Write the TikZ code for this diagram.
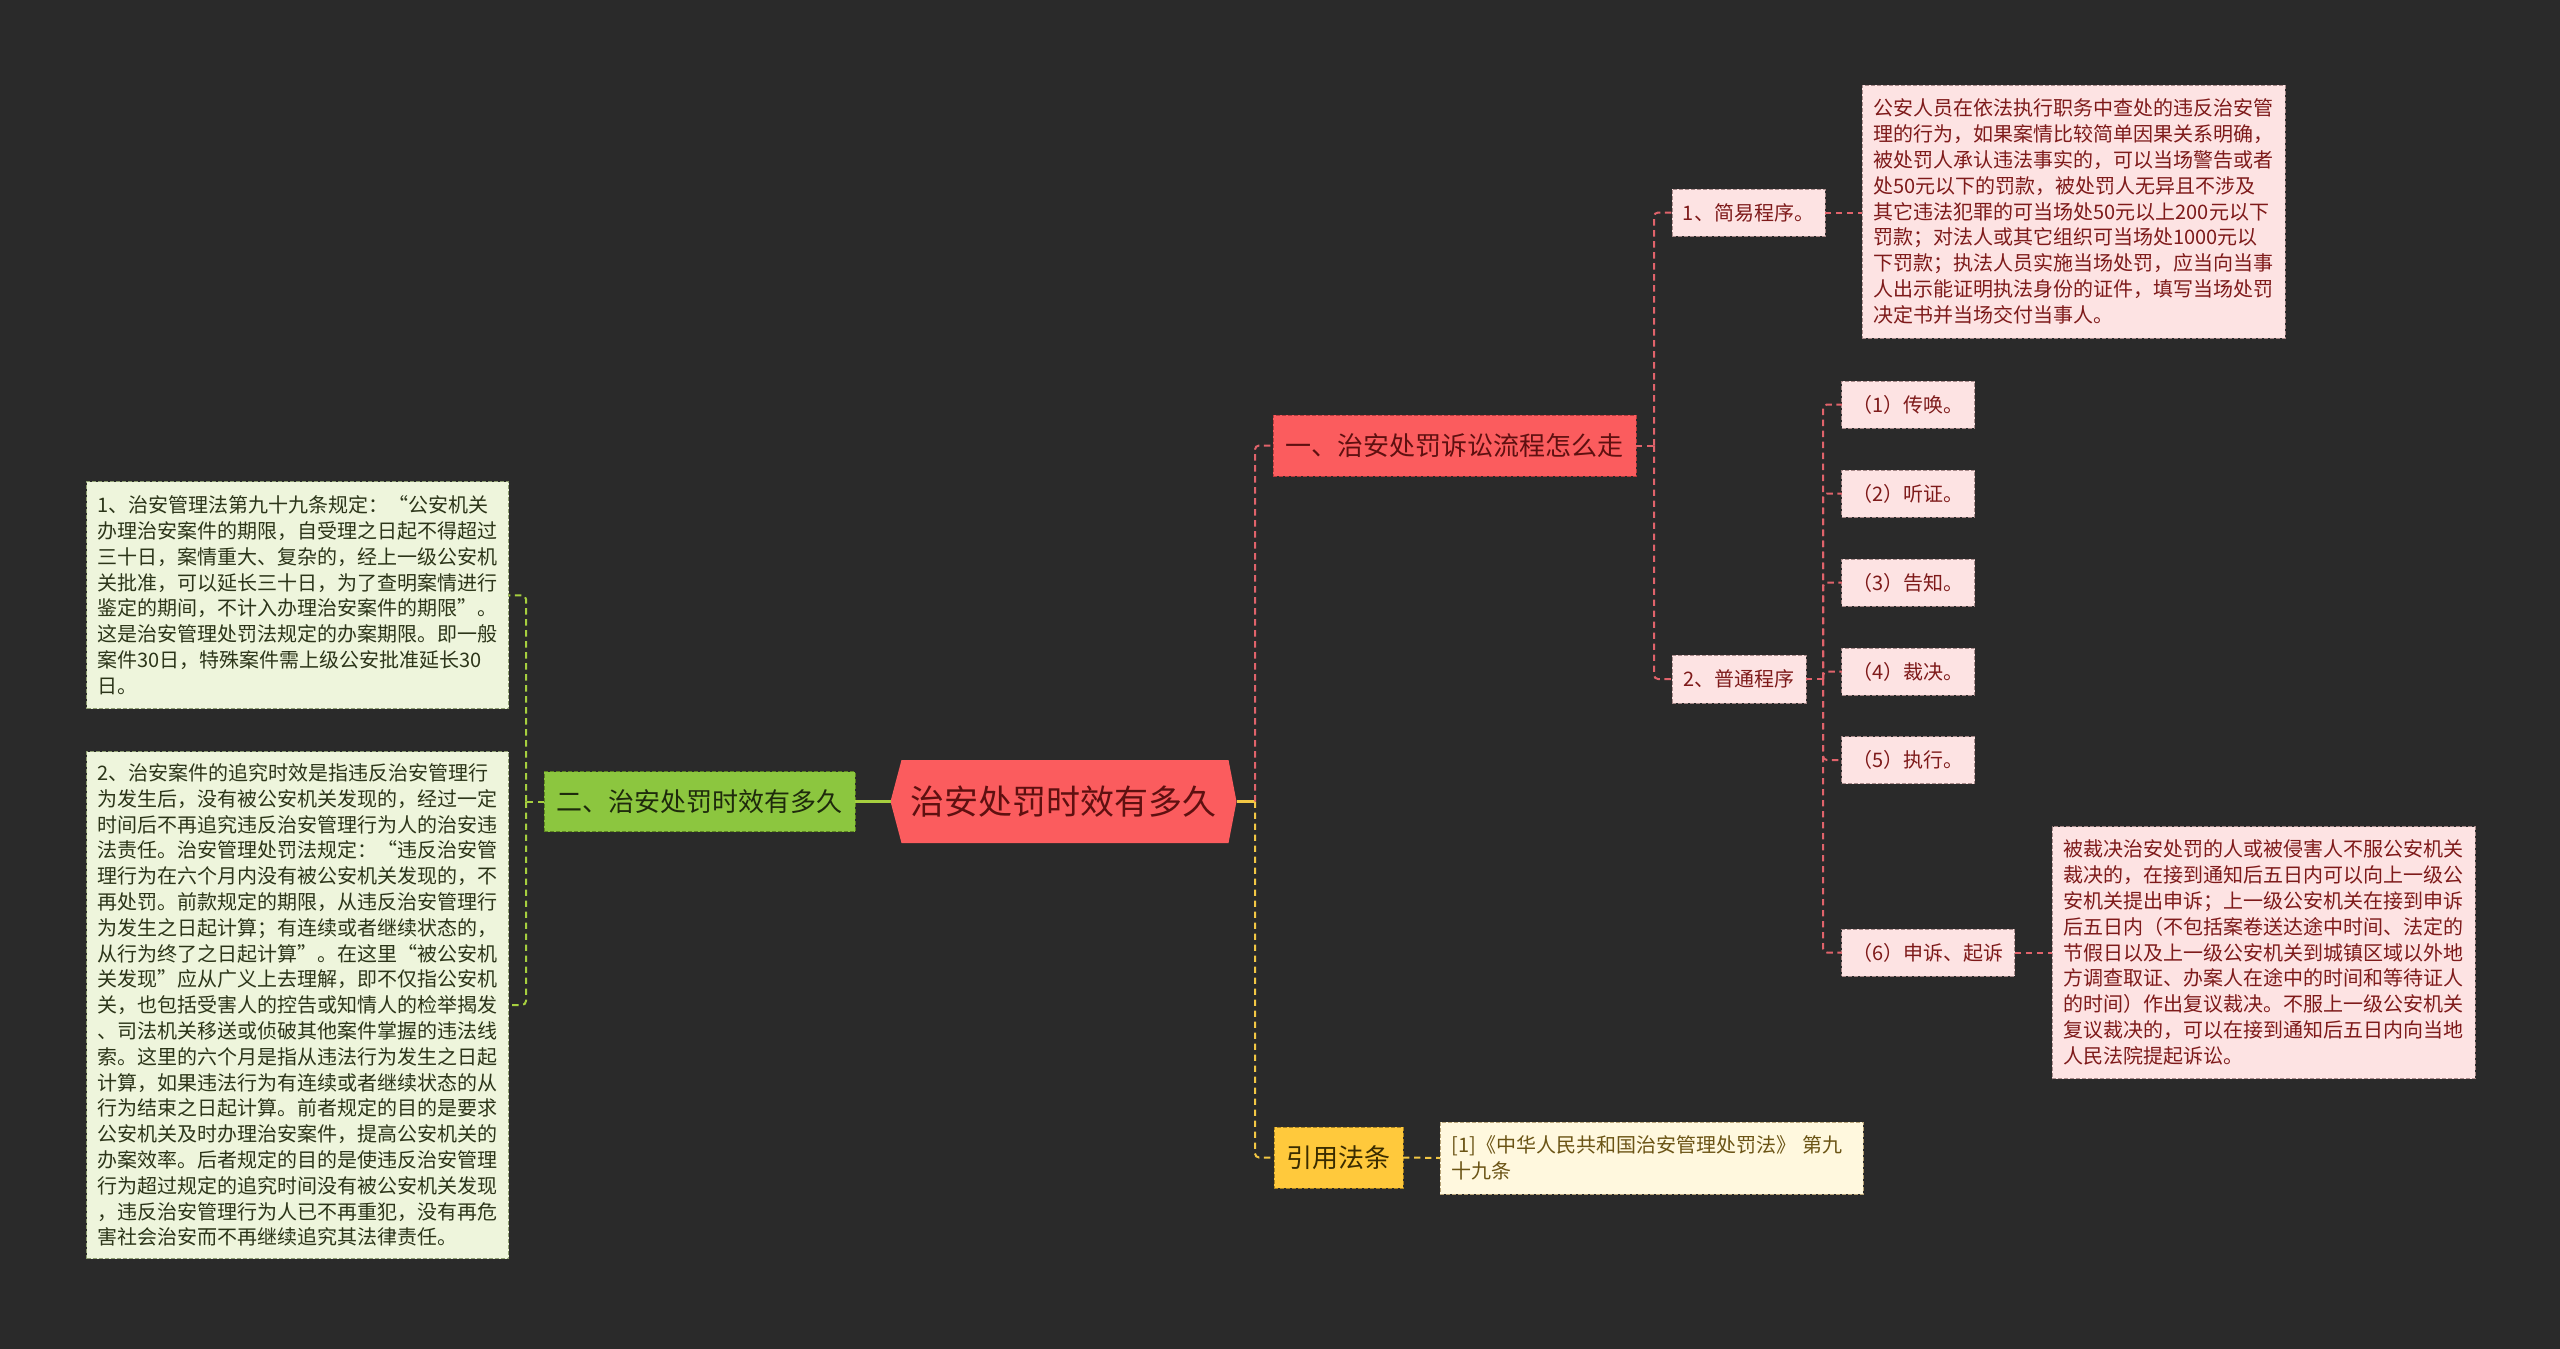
\documentclass[tikz,border=0pt]{standalone}
\usepackage{fontspec}
\setmainfont{Noto Sans CJK SC}
\usetikzlibrary{backgrounds}
\definecolor{cbg}{HTML}{2A2A2A}
\definecolor{cred}{HTML}{FB5C5E}
\definecolor{credb}{HTML}{B53A3C}
\definecolor{credt}{HTML}{5E1010}
\definecolor{cpink}{HTML}{FDE3E3}
\definecolor{cpinkb}{HTML}{A88A8A}
\definecolor{cpinkt}{HTML}{7E1A1A}
\definecolor{cgreen}{HTML}{8CC63F}
\definecolor{cgreenb}{HTML}{5C8420}
\definecolor{cgreent}{HTML}{1E2A0C}
\definecolor{clgreen}{HTML}{EEF5DC}
\definecolor{clgreenb}{HTML}{8E9E72}
\definecolor{clgreent}{HTML}{2C3519}
\definecolor{cyel}{HTML}{FFC93C}
\definecolor{cyelb}{HTML}{A88220}
\definecolor{cyelt}{HTML}{3A2C00}
\definecolor{clyel}{HTML}{FFF8DE}
\definecolor{clyelb}{HTML}{B8A478}
\definecolor{clyelt}{HTML}{6B5415}
\definecolor{lred}{HTML}{E0636B}
\definecolor{lgreen}{HTML}{A6CF3F}
\definecolor{lyel}{HTML}{F2C744}
\tikzset{
  sz/.style 2 args={minimum width=#1*0.5pt, minimum height=#2*0.5pt},
  base/.style={inner sep=0pt, outer sep=0pt, dash pattern=on 2pt off 1pt, line width=0.5pt},
  redbox/.style={base, fill=cred, draw=credb, text=credt, font=\fontsize{13pt}{15pt}\selectfont},
  greenbox/.style={base, fill=cgreen, draw=cgreenb, text=cgreent, font=\fontsize{13pt}{15pt}\selectfont},
  yelbox/.style={base, fill=cyel, draw=cyelb, text=cyelt, font=\fontsize{13pt}{15pt}\selectfont},
  pinksmall/.style={base, fill=cpink, draw=cpinkb, text=cpinkt, font=\fontsize{10pt}{12pt}\selectfont},
  pinkbig/.style={pinksmall, text width=200pt, align=left, font=\fontsize{10pt}{12.9pt}\selectfont},
  leafgreen/.style={base, fill=clgreen, draw=clgreenb, text=clgreent, text width=200pt, align=left, font=\fontsize{10pt}{12.9pt}\selectfont},
  leafyel/.style={base, fill=clyel, draw=clyelb, text=clyelt, text width=200pt, align=left, font=\fontsize{10pt}{12.9pt}\selectfont},
  centerbox/.style={inner sep=0pt, outer sep=0pt, text=credt, font=\fontsize{17pt}{19pt}\selectfont},
  rdash/.style={draw=lred, line width=1pt, dash pattern=on 3.2pt off 2.3pt, rounded corners=2pt},
  gdash/.style={draw=lgreen, line width=1pt, dash pattern=on 3.2pt off 2.3pt, rounded corners=2pt},
  ydash/.style={draw=lyel, line width=1pt, dash pattern=on 3.2pt off 2.3pt, rounded corners=2pt},
  gsolid/.style={draw=lgreen, line width=1.5pt},
  ysolid/.style={draw=lyel, line width=1.5pt},
}
\begin{document}
\begin{tikzpicture}[x=0.5pt,y=-0.5pt]
\useasboundingbox (0,0) rectangle (2560,1349);
\begin{scope}[on background layer]
\fill[cbg] (0,0) rectangle (2560,1349);
\end{scope}

% central
\node[centerbox, sz={346}{83}] (c) at (1063.5,801.5) {治安处罚时效有多久};
\begin{scope}[on background layer]
\fill[cred] (c.west) -- ([xshift=5.5pt]c.north west) -- ([xshift=-4pt]c.north east) -- (c.east) -- ([xshift=-4pt]c.south east) -- ([xshift=5.5pt]c.south west) -- cycle;
\end{scope}

% left branch
\node[greenbox, sz={311}{60}] (g2) at (699.5,801.5) {二、治安处罚时效有多久};
\node[leafgreen, sz={422}{227}] (L1) at (297.5,595.3) {1、治安管理法第九十九条规定：“公安机关\\办理治安案件的期限，自受理之日起不得超过\\三十日，案情重大、复杂的，经上一级公安机\\关批准，可以延长三十日，为了查明案情进行\\鉴定的期间，不计入办理治安案件的期限”。\\这是治安管理处罚法规定的办案期限。即一般\\案件30日，特殊案件需上级公安批准延长30\\日。};
\node[leafgreen, sz={422}{507}] (L2) at (297.5,1005) {2、治安案件的追究时效是指违反治安管理行\\为发生后，没有被公安机关发现的，经过一定\\时间后不再追究违反治安管理行为人的治安违\\法责任。治安管理处罚法规定：“违反治安管\\理行为在六个月内没有被公安机关发现的，不\\再处罚。前款规定的期限，从违反治安管理行\\为发生之日起计算；有连续或者继续状态的，\\从行为终了之日起计算”。在这里“被公安机\\关发现”应从广义上去理解，即不仅指公安机\\关，也包括受害人的控告或知情人的检举揭发\\、司法机关移送或侦破其他案件掌握的违法线\\索。这里的六个月是指从违法行为发生之日起\\计算，如果违法行为有连续或者继续状态的从\\行为结束之日起计算。前者规定的目的是要求\\公安机关及时办理治安案件，提高公安机关的\\办案效率。后者规定的目的是使违反治安管理\\行为超过规定的追究时间没有被公安机关发现\\，违反治安管理行为人已不再重犯，没有再危\\害社会治安而不再继续追究其法律责任。};

% right branch
\node[redbox, sz={363}{61}] (r1) at (1454.5,445.5) {一、治安处罚诉讼流程怎么走};
\node[yelbox, sz={129}{61}] (ref) at (1338.5,1157.5) {引用法条};
\node[leafyel, sz={423}{72}] (refbox) at (1651.5,1158) {[1]《中华人民共和国治安管理处罚法》 第九\\十九条};

\node[pinksmall, sz={153}{47}] (s1) at (1748.5,212.5) {1、简易程序。};
\node[pinksmall, sz={134}{48}] (s2) at (1739,679) {2、普通程序};
\node[pinkbig, sz={423}{253}] (p1) at (2073.5,211.5) {公安人员在依法执行职务中查处的违反治安管\\理的行为，如果案情比较简单因果关系明确，\\被处罚人承认违法事实的，可以当场警告或者\\处50元以下的罚款，被处罚人无异且不涉及\\其它违法犯罪的可当场处50元以上200元以下\\罚款；对法人或其它组织可当场处1000元以\\下罚款；执法人员实施当场处罚，应当向当事\\人出示能证明执法身份的证件，填写当场处罚\\决定书并当场交付当事人。};

\node[pinksmall, sz={133}{47}] (n1) at (1908.3,404.5) {（1）传唤。};
\node[pinksmall, sz={133}{47}] (n2) at (1908.3,493.5) {（2）听证。};
\node[pinksmall, sz={133}{47}] (n3) at (1908.3,582.5) {（3）告知。};
\node[pinksmall, sz={133}{47}] (n4) at (1908.3,671.5) {（4）裁决。};
\node[pinksmall, sz={133}{47}] (n5) at (1908.3,760) {（5）执行。};
\node[pinksmall, sz={173}{47}] (n6) at (1928.3,952.5) {（6）申诉、起诉};
\node[pinkbig, sz={423}{252}] (p2) at (2263.5,952.5) {被裁决治安处罚的人或被侵害人不服公安机关\\裁决的，在接到通知后五日内可以向上一级公\\安机关提出申诉；上一级公安机关在接到申诉\\后五日内（不包括案卷送达途中时间、法定的\\节假日以及上一级公安机关到城镇区域以外地\\方调查取证、办案人在途中的时间和等待证人\\的时间）作出复议裁决。不服上一级公安机关\\复议裁决的，可以在接到通知后五日内向当地\\人民法院提起诉讼。};

% connectors
\coordinate (cR) at (1255,801.5);
\coordinate (cL) at (526,801.5);
\coordinate (r1R) at (1654,445.5);
\coordinate (s2R) at (1823,679);

\draw[ysolid] (c.east) -- (cR);
\draw[rdash] (cR) |- (r1.west);
\draw[ydash] (cR) |- (ref.west);
\draw[ydash] (ref.east) -- (refbox.west);

\draw[gsolid] (c.west) -- (g2.east);
\draw[gdash] (g2.west) -- (cL);
\draw[gdash] (cL) |- (L1.east);
\draw[gdash] (cL) |- (L2.east);

\draw[rdash] (r1.east) -- (r1R);
\draw[rdash] (r1R) |- (s1.west);
\draw[rdash] (r1R) |- (s2.west);
\draw[rdash] (s1.east) -- (s1.east -| p1.west);

\draw[rdash] (s2.east) -- (s2R);
\foreach \n in {n1,n2,n3,n4,n5,n6}{
  \draw[rdash] (s2R) |- (\n.west);
}
\draw[rdash] (n6.east) -- (n6.east -| p2.west);
\end{tikzpicture}
\end{document}
